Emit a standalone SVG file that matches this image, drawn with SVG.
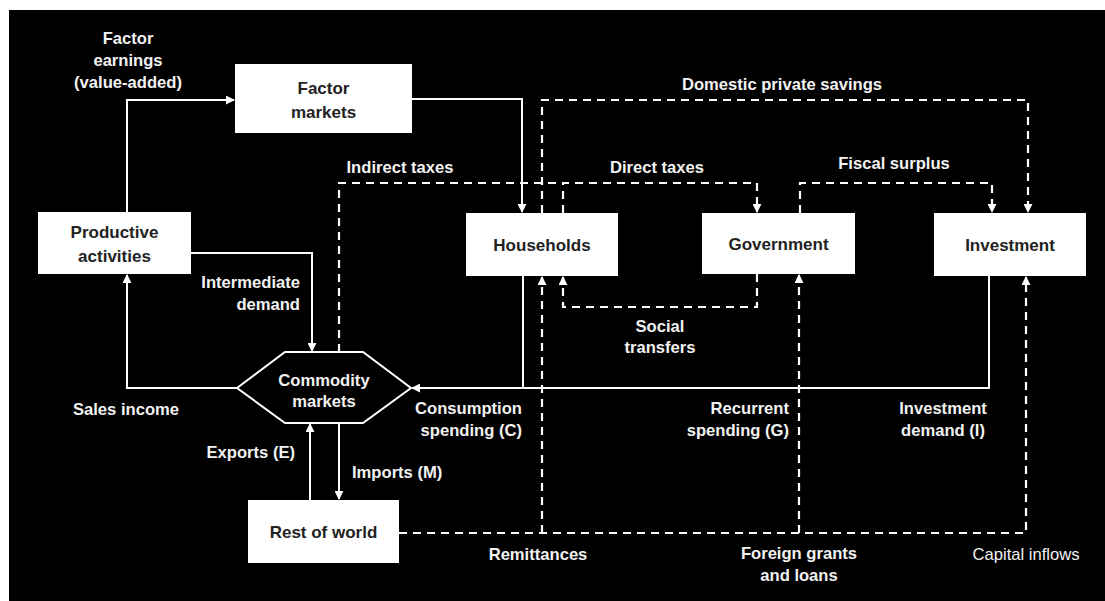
<svg xmlns="http://www.w3.org/2000/svg" width="1105" height="601" viewBox="0 0 1105 601">
<defs>
<style>
.bg{fill:#000}
.box{fill:#fff}
.nt{font-family:"Liberation Sans",Arial,sans-serif;font-weight:bold;font-size:17px;fill:#222;text-anchor:middle}
.lb{font-family:"Liberation Sans",Arial,sans-serif;font-weight:bold;font-size:16.6px;fill:#f2f2f2;text-anchor:middle}
.lr{font-family:"Liberation Sans",Arial,sans-serif;font-size:16.6px;fill:#f2f2f2;text-anchor:middle}
.ln{fill:none;stroke:#fff;stroke-width:2}
.ds{fill:none;stroke:#fff;stroke-width:2.2;stroke-dasharray:8 6}
</style>
<marker id="ah" viewBox="0 0 10 10" refX="9" refY="5" markerWidth="9" markerHeight="9" markerUnits="userSpaceOnUse" orient="auto">
<path d="M0,0 L10,5 L0,10 z" fill="#fff"/>
</marker>
</defs>
<rect x="0" y="0" width="1105" height="601" fill="#fff"/>
<rect class="bg" x="9" y="10" width="1096" height="591"/>

<g id="connectors">
<path class="ln" d="M127,212 V100 H234" marker-end="url(#ah)"/>
<path class="ln" d="M412,99 H522 V212" marker-end="url(#ah)"/>
<path class="ln" d="M191,253 H312 V351" marker-end="url(#ah)"/>
<path class="ln" d="M237,388 H127 V275" marker-end="url(#ah)"/>
<path class="ln" d="M523,276 V388 H412" marker-end="url(#ah)"/>
<path class="ln" d="M989,276 V388 H523"/>
<path class="ln" d="M310,500 V424" marker-end="url(#ah)"/>
<path class="ln" d="M339,423 V499" marker-end="url(#ah)"/>
<path class="ds" d="M339,352 V183 H563"/>
<path class="ds" d="M563,213 V183 H757 V212" marker-end="url(#ah)"/>
<path class="ds" d="M542,213 V100 H1028 V212" marker-end="url(#ah)"/>
<path class="ds" d="M800,213 V183 H992 V212" marker-end="url(#ah)"/>
<path class="ds" d="M757,274 V307 H563 V277" marker-end="url(#ah)"/>
<path class="ds" d="M399,533 H1026 V277" marker-end="url(#ah)"/>
<path class="ds" d="M542,533 V277" marker-end="url(#ah)"/>
<path class="ds" d="M799,533 V275" marker-end="url(#ah)"/>
</g>

<g id="factor-markets">
<rect class="box" x="235" y="64" width="177" height="69"/>
<text class="nt" x="323.5" y="94">Factor</text>
<text class="nt" x="323.5" y="118">markets</text>
</g>
<g id="productive-activities">
<rect class="box" x="38" y="212" width="153" height="62"/>
<text class="nt" x="114.5" y="238">Productive</text>
<text class="nt" x="114.5" y="262">activities</text>
</g>
<g id="households">
<rect class="box" x="466" y="213" width="152" height="63"/>
<text class="nt" x="542" y="251">Households</text>
</g>
<g id="government">
<rect class="box" x="702" y="213" width="153" height="61"/>
<text class="nt" x="778.5" y="250">Government</text>
</g>
<g id="investment">
<rect class="box" x="934" y="213" width="152" height="63"/>
<text class="nt" x="1010" y="251">Investment</text>
</g>
<g id="commodity-markets">
<polygon points="237,388 285,352 363,352 411,388 363,423 285,423" fill="#000" stroke="#fff" stroke-width="2"/>
<text class="lb" x="324" y="386" font-size="17">Commodity</text>
<text class="lb" x="324" y="407" font-size="17">markets</text>
</g>
<g id="rest-of-world">
<rect class="box" x="248" y="500" width="151" height="63"/>
<text class="nt" x="323.5" y="538">Rest of world</text>
</g>

<g id="labels">
<text class="lb" x="128" y="44">Factor</text>
<text class="lb" x="128" y="66">earnings</text>
<text class="lb" x="128" y="88">(value-added)</text>
<text class="lb" x="782" y="90">Domestic private savings</text>
<text class="lb" x="400" y="173">Indirect taxes</text>
<text class="lb" x="657" y="173">Direct taxes</text>
<text class="lb" x="894" y="169">Fiscal surplus</text>
<text class="lb" x="300" y="288" style="text-anchor:end">Intermediate</text>
<text class="lb" x="300" y="310" style="text-anchor:end">demand</text>
<text class="lb" x="660" y="332">Social</text>
<text class="lb" x="660" y="353">transfers</text>
<text class="lb" x="126" y="415">Sales income</text>
<text class="lb" x="522" y="414" style="text-anchor:end">Consumption</text>
<text class="lb" x="522" y="436" style="text-anchor:end">spending (C)</text>
<text class="lb" x="789" y="414" style="text-anchor:end">Recurrent</text>
<text class="lb" x="789" y="436" style="text-anchor:end">spending (G)</text>
<text class="lb" x="943" y="414">Investment</text>
<text class="lb" x="943" y="436">demand (I)</text>
<text class="lb" x="295" y="458" style="text-anchor:end">Exports (E)</text>
<text class="lb" x="352" y="478" style="text-anchor:start">Imports (M)</text>
<text class="lb" x="538" y="560">Remittances</text>
<text class="lb" x="799" y="559">Foreign grants</text>
<text class="lb" x="799" y="581">and loans</text>
<text class="lr" x="1026" y="560">Capital inflows</text>
</g>
</svg>
